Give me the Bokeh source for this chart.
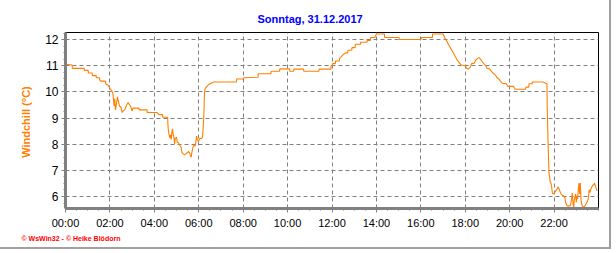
from bokeh.plotting import figure
from bokeh.models import Range1d, FixedTicker, Title
from bokeh.embed import file_html
from bokeh.resources import INLINE

# --- data (hours of day, windchill in °C) ---
t_hours = [
    0.00, 0.30, 0.31, 0.84, 0.85, 1.02, 1.03, 1.20, 1.21, 1.38, 1.39, 1.53, 1.54, 1.59, 1.80, 1.81,
    1.92, 2.01, 2.13, 2.19, 2.22, 2.25, 2.31, 2.34, 2.37, 2.43, 2.50, 2.55, 2.61, 2.68, 2.73, 2.82,
    2.88, 2.95, 3.00, 3.04, 3.31, 3.32, 3.67, 3.68, 4.12, 4.21, 4.37, 4.38, 4.60, 4.61, 4.64, 4.70,
    4.73, 4.76, 4.79, 4.82, 4.85, 4.88, 4.91, 4.94, 5.00, 5.03, 5.09, 5.15, 5.21, 5.24, 5.30, 5.36,
    5.42, 5.48, 5.54, 5.60, 5.63, 5.66, 5.69, 5.75, 5.81, 5.84, 5.87, 5.90, 5.93, 5.99, 6.05, 6.11,
    6.17, 6.20, 6.23, 6.26, 6.29, 6.35, 6.44, 6.53, 6.68, 7.70, 7.71, 8.00, 8.01, 8.67, 8.68, 9.25,
    9.26, 9.64, 9.65, 10.09, 10.10, 10.27, 10.28, 10.72, 10.73, 11.41, 11.42, 11.95, 11.96, 12.01, 12.02, 12.15,
    12.16, 12.33, 12.34, 12.43, 12.52, 12.61, 12.71, 12.72, 12.89, 12.90, 13.04, 13.05, 13.28, 13.29, 13.58, 13.59,
    13.73, 13.74, 13.94, 13.95, 14.01, 14.36, 14.37, 15.02, 15.03, 16.01, 16.02, 16.52, 16.53, 17.00, 17.09, 17.18,
    17.27, 17.36, 17.45, 17.54, 17.63, 17.72, 17.81, 18.02, 18.05, 18.14, 18.23, 18.29, 18.41, 18.47, 18.56, 18.62,
    18.68, 18.77, 18.83, 18.92, 18.98, 19.10, 19.19, 19.28, 19.37, 19.43, 19.52, 19.58, 19.67, 19.85, 19.91, 20.18,
    20.24, 20.72, 20.73, 20.86, 20.87, 21.01, 21.02, 21.50, 21.62, 21.68, 21.69, 21.72, 21.74, 21.77, 21.80, 21.83,
    21.86, 21.89, 21.92, 21.95, 22.01, 22.07, 22.13, 22.19, 22.25, 22.31, 22.37, 22.43, 22.49, 22.52, 22.58, 22.73,
    22.76, 22.79, 22.82, 22.85, 22.88, 22.91, 22.97, 23.00, 23.03, 23.06, 23.09, 23.12, 23.15, 23.18, 23.21, 23.24,
    23.27, 23.33, 23.39, 23.45, 23.48, 23.54, 23.58, 23.61, 23.67, 23.73, 23.79, 23.82, 23.88, 23.91, 23.94,
]
windchill = [
    11.05, 11.03, 10.90, 10.90, 10.82, 10.82, 10.72, 10.72, 10.62, 10.62, 10.54, 10.54, 10.46, 10.41, 10.41, 10.31,
    10.25, 10.12, 9.97, 9.46, 9.74, 9.31, 9.62, 9.81, 9.68, 9.46, 9.41, 9.21, 9.28, 9.33, 9.46, 9.59,
    9.51, 9.41, 9.26, 9.38, 9.38, 9.31, 9.31, 9.21, 9.21, 9.13, 9.13, 9.03, 9.03, 8.78, 8.46, 8.23,
    8.36, 8.18, 8.46, 8.59, 8.36, 8.27, 8.01, 8.21, 8.27, 8.08, 8.05, 7.95, 7.88, 7.69, 7.63, 7.59,
    7.63, 7.67, 7.72, 7.63, 7.56, 7.50, 7.69, 7.92, 7.97, 7.92, 8.08, 8.31, 8.18, 8.10, 8.23, 8.21,
    8.27, 8.65, 9.10, 10.00, 10.13, 10.19, 10.28, 10.32, 10.38, 10.38, 10.49, 10.49, 10.54, 10.56, 10.69, 10.69,
    10.79, 10.79, 10.88, 10.88, 10.79, 10.79, 10.87, 10.87, 10.79, 10.79, 10.87, 10.87, 11.00, 11.00, 11.08, 11.08,
    11.18, 11.18, 11.28, 11.36, 11.44, 11.49, 11.49, 11.59, 11.59, 11.69, 11.69, 11.82, 11.82, 11.90, 11.90, 11.97,
    11.97, 12.08, 12.08, 12.15, 12.21, 12.21, 12.08, 12.08, 12.00, 12.00, 12.08, 12.08, 12.21, 12.21, 12.05, 11.92,
    11.77, 11.64, 11.51, 11.36, 11.23, 11.13, 11.03, 11.00, 10.90, 10.87, 10.95, 11.08, 11.10, 11.21, 11.28, 11.31,
    11.26, 11.15, 11.08, 11.00, 10.90, 10.87, 10.77, 10.69, 10.64, 10.54, 10.49, 10.41, 10.33, 10.31, 10.21, 10.21,
    10.10, 10.10, 10.18, 10.18, 10.31, 10.31, 10.38, 10.38, 10.33, 10.31, 9.49, 8.33, 7.76, 6.90, 6.73, 6.54,
    6.51, 6.38, 6.15, 6.10, 6.13, 6.21, 6.28, 6.36, 6.23, 6.10, 6.05, 6.03, 5.95, 5.77, 5.64, 5.64,
    5.77, 5.92, 6.13, 5.77, 5.54, 5.87, 6.10, 5.77, 6.03, 5.90, 6.26, 6.51, 6.10, 6.51, 5.90, 5.72,
    5.64, 5.59, 5.64, 5.74, 5.79, 5.90, 6.26, 6.15, 6.31, 6.41, 6.46, 6.51, 6.36, 6.26, 6.21,
]
x_ticks = [0, 2, 4, 6, 8, 10, 12, 14, 16, 18, 20, 22]
x_tick_labels = ["00:00", "02:00", "04:00", "06:00", "08:00", "10:00",
                 "12:00", "14:00", "16:00", "18:00", "20:00", "22:00"]
y_ticks = [6, 7, 8, 9, 10, 11, 12]
title_text = "Sonntag, 31.12.2017"
y_label = "Windchill  (°C)"
footer_text = "© WsWin32  -  © Heike Blödorn"

FONT = "Liberation Sans"

p = figure(width=611, height=249, output_backend="svg", toolbar_location=None,
           x_range=Range1d(0, 24), y_range=Range1d(5.54, 12.27),
           min_border_left=65, min_border_right=13, min_border_top=32, min_border_bottom=41)
p.styles = {"border-right": "2px solid #a0a0a0", "border-bottom": "2px solid #a0a0a0"}

p.title.text = title_text
p.title.align = "left"
p.title.offset = 192
p.title.standoff = 16
p.title.text_font = FONT
p.title.text_font_size = "11px"
p.title.text_font_style = "bold"
p.title.text_color = "#0000ff"

p.add_layout(Title(text=footer_text, align="left", offset=-44, text_font=FONT,
                   text_font_size="7px", text_font_style="bold", text_color="#ff0000",
                   standoff=2), "below")

p.line(t_hours, windchill, line_color="#ff8000", line_width=1.1)

p.outline_line_color = "black"
p.outline_line_width = 1

p.xaxis.ticker = FixedTicker(ticks=x_ticks, minor_ticks=[i * 0.5 for i in range(49)])
p.xaxis.major_label_overrides = {t: l for t, l in zip(x_ticks, x_tick_labels)}
p.yaxis.ticker = FixedTicker(ticks=y_ticks, minor_ticks=[5.5 + i * 0.25 for i in range(28)])

for ax in (p.xaxis[0], p.yaxis[0]):
    ax.axis_line_color = "#808080"
    ax.axis_line_width = 3
    ax.major_tick_line_color = "#808080"
    ax.minor_tick_line_color = "#808080"
    ax.major_tick_out = 4
    ax.major_tick_in = 0
    ax.minor_tick_out = 2
    ax.minor_tick_in = 0
    ax.major_label_text_font = FONT
    ax.major_label_text_color = "black"

p.xaxis.major_label_text_font_size = "11px"
p.xaxis.major_label_standoff = 4
p.yaxis.major_label_text_font_size = "12px"
p.yaxis.major_label_standoff = 3

p.yaxis.axis_label = y_label
p.yaxis.axis_label_text_font = FONT
p.yaxis.axis_label_text_font_size = "11px"
p.yaxis.axis_label_text_font_style = "bold"
p.yaxis.axis_label_text_color = "#ff8000"
p.yaxis.axis_label_standoff = 10

p.xgrid.ticker = FixedTicker(ticks=x_ticks)
p.ygrid.ticker = FixedTicker(ticks=y_ticks)
for g in (p.xgrid[0], p.ygrid[0]):
    g.grid_line_color = "#808080"
    g.grid_line_dash = "4 3"
    g.grid_line_width = 1

open("out.html", "w").write(file_html(p, INLINE))
